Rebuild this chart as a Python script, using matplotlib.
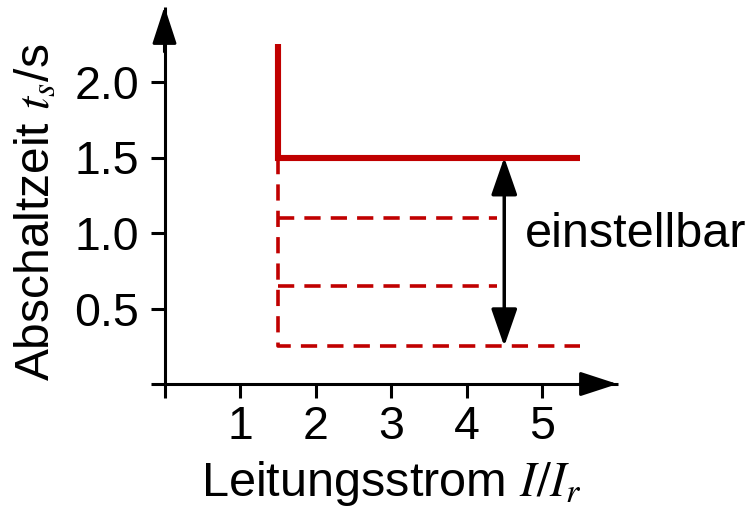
import matplotlib
matplotlib.use('Agg')
import matplotlib.pyplot as plt

plt.rcParams['font.family'] = ['Liberation Sans', 'DejaVu Sans']
plt.rcParams['mathtext.fontset'] = 'stix'

# data
x_ticks = [0, 1, 2, 3, 4, 5]
x_labels = ['', '1', '2', '3', '4', '5']
y_ticks = [0, 0.5, 1.0, 1.5, 2.0]
y_labels = ['', '0.5', '1.0', '1.5', '2.0']

# solid characteristic (pickup at 1.5 I_r, delay 1.5 s)
curve_x = [1.5, 1.5, 5.5]
curve_y = [2.25, 1.5, 1.5]

# lowest setting: vertical dashed from 1.5 s down to 0.25 s, then along
lowest_x = [1.5, 1.5, 5.5]
lowest_y = [1.5, 0.25, 0.25]

# intermediate settings
mid_levels = [1.1, 0.65]
mid_start = 1.5
mid_end = 4.4

# adjust range arrow
range_x = 4.5
range_top = 1.5
range_bottom = 0.25

red = '#C00000'

fig = plt.figure(figsize=(7.46, 5.09), dpi=100)
W, H = 746, 509
left, right, bottom_px, top_px = 164.5, 617.5, 384, 6.5
ax = fig.add_axes([left / W, 1 - bottom_px / H, (right - left) / W, (bottom_px - top_px) / H])
ax.set_xlim(0, 6.0)
ax.set_ylim(0, 2.5)

for s in ['top', 'right']:
    ax.spines[s].set_visible(False)
for s in ['left', 'bottom']:
    ax.spines[s].set_linewidth(2.2)
    ax.spines[s].set_capstyle('butt')

ax.set_xticks(x_ticks)
ax.set_xticklabels(x_labels)
ax.set_yticks(y_ticks)
ax.set_yticklabels(y_labels)
ax.tick_params(axis='both', length=10, width=2.2, labelsize=33.5, direction='out')
ax.tick_params(axis='x', pad=5)
ax.tick_params(axis='y', pad=8)

# axis arrow heads
head = '-|>,head_length=23,head_width=7.5'
ax.annotate('', xy=(0, 2.5), xytext=(0, 2.2), annotation_clip=False,
            arrowprops=dict(arrowstyle=head, mutation_scale=1, color='black',
                            lw=2.2, shrinkA=0, shrinkB=0))
ax.annotate('', xy=(6.0, 0), xytext=(5.5, 0), annotation_clip=False,
            arrowprops=dict(arrowstyle=head, mutation_scale=1, color='black',
                            lw=2.2, shrinkA=0, shrinkB=0))

# red curves
ax.plot(lowest_x, lowest_y, color=red, lw=2.6, linestyle=(0, (4.5, 2.8)),
        solid_joinstyle='miter', clip_on=False)
for lvl in mid_levels:
    ax.plot([mid_start, mid_end], [lvl, lvl], color=red, lw=2.6,
            linestyle=(0, (4.5, 2.8)), clip_on=False)
ax.plot(curve_x, curve_y, color=red, lw=4.4, solid_joinstyle='miter',
        solid_capstyle='butt', clip_on=False)

# double arrow "einstellbar"
ax.annotate('', xy=(range_x, range_top), xytext=(range_x, range_bottom),
            arrowprops=dict(arrowstyle='<|-|>,head_length=23,head_width=8',
                            mutation_scale=1, color='black', lw=2.5,
                            shrinkA=0, shrinkB=0))
ax.text(4.77, 0.99, 'einstellbar', fontsize=35, ha='left', va='center')

fig.text(391 / W, 1 - 484 / H, r'Leitungsstrom $I/I_r$', fontsize=35,
         ha='center', va='center')
fig.text(36 / W, 1 - 212 / H, r'Abschaltzeit $t_s$/s', fontsize=34.5,
         ha='center', va='center', rotation=90)

fig.savefig('out.png', dpi=100)
